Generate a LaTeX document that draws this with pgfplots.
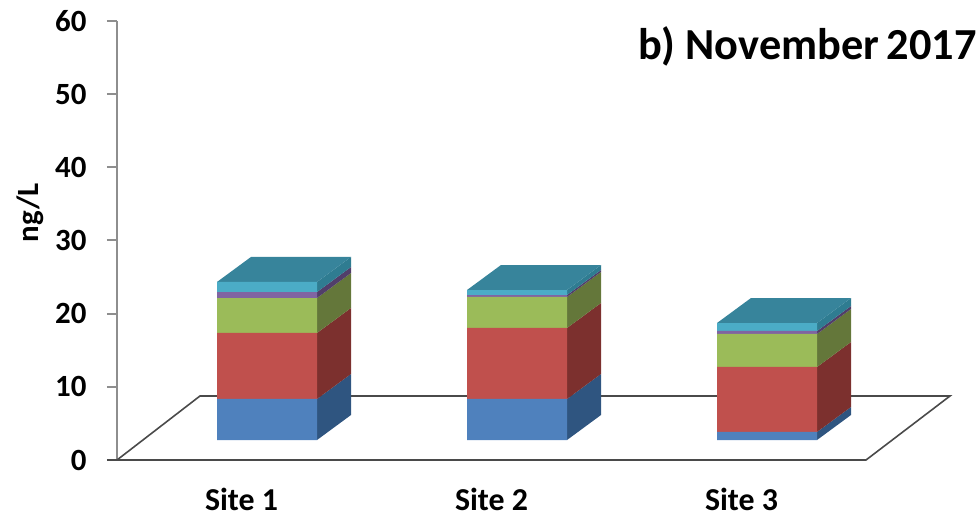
\documentclass[border=0pt]{standalone}
\usepackage{pgfplots}
\pgfplotsset{compat=1.18}
\usepackage{fontspec}
\setmainfont{Carlito}
\definecolor{cBlue}{HTML}{4F81BD}\definecolor{sBlue}{HTML}{2F5580}
\definecolor{cRed}{HTML}{C0504D}\definecolor{sRed}{HTML}{7C302E}
\definecolor{cGreen}{HTML}{9BBB59}\definecolor{sGreen}{HTML}{64773A}
\definecolor{cPurple}{HTML}{8064A2}\definecolor{sPurple}{HTML}{513E6A}
\definecolor{cCyan}{HTML}{4BACC6}\definecolor{sCyan}{HTML}{2F7C91}
\definecolor{cTop}{HTML}{37849B}
\definecolor{axisgrey}{HTML}{8E8E8E}
\definecolor{floorline}{HTML}{4A4A4A}
\pgfplotsset{common/.style={
  scale only axis, width=833bp, height=439bp,
  at={(117bp,53bp)}, anchor=south west,
  xmin=117, xmax=950, ymin=0, ymax=60, clip=false}}
\begin{document}
\begin{tikzpicture}[x=1bp,y=1bp]
\useasboundingbox (0,0) rectangle (980,513);
% floor, y axis, side and top faces
\begin{axis}[common,
  axis x line=none, axis y line=left, axis line style={draw=axisgrey,line width=2bp,-},
  ytick={0,10,20,30,40,50,60},
  y tick style={draw=axisgrey,line width=2bp},
  tick align=outside, major tick length=10bp,
  tick label style={font=\fontsize{31}{31}\selectfont\bfseries},
  /pgf/number format/assume math mode=true,
  yticklabel style={xshift=-17bp},
  ylabel={ng/L}, ylabel style={font=\fontsize{31}{31}\selectfont\bfseries,at={(axis description cs:-0.0948,0.563)},anchor=base},
]
\addplot[draw=floorline,line width=1.6bp,fill=none] coordinates {(107,0)(866,0)(950,8.75)(200,8.75)(117,0)};
% Site 1 sides
\addplot[draw=none,fill=sBlue] coordinates {(317,2.73)(351,6.15)(351,11.76)(317,8.34)} --cycle;
\addplot[draw=none,fill=sRed] coordinates {(317,8.34)(351,11.76)(351,20.78)(317,17.36)} --cycle;
\addplot[draw=none,fill=sGreen] coordinates {(317,17.36)(351,20.78)(351,25.56)(317,22.14)} --cycle;
\addplot[draw=none,fill=sPurple] coordinates {(317,22.14)(351,25.56)(351,26.38)(317,22.96)} --cycle;
\addplot[draw=none,fill=sCyan] coordinates {(317,22.96)(351,26.38)(351,27.75)(317,24.33)} --cycle;
\addplot[draw=none,fill=cTop] coordinates {(217,24.33)(317,24.33)(351,27.75)(251,27.75)} --cycle;
% Site 2 sides
\addplot[draw=none,fill=sBlue] coordinates {(567,2.73)(601,6.15)(601,11.76)(567,8.34)} --cycle;
\addplot[draw=none,fill=sRed] coordinates {(567,8.34)(601,11.76)(601,21.46)(567,18.04)} --cycle;
\addplot[draw=none,fill=sGreen] coordinates {(567,18.04)(601,21.46)(601,25.70)(567,22.28)} --cycle;
\addplot[draw=none,fill=sPurple] coordinates {(567,22.28)(601,25.70)(601,25.97)(567,22.55)} --cycle;
\addplot[draw=none,fill=sCyan] coordinates {(567,22.55)(601,25.97)(601,26.65)(567,23.23)} --cycle;
\addplot[draw=none,fill=cTop] coordinates {(467,23.23)(567,23.23)(601,26.65)(501,26.65)} --cycle;
% Site 3 sides
\addplot[draw=none,fill=sBlue] coordinates {(817,2.73)(851,6.15)(851,7.25)(817,3.83)} --cycle;
\addplot[draw=none,fill=sRed] coordinates {(817,3.83)(851,7.25)(851,16.13)(817,12.71)} --cycle;
\addplot[draw=none,fill=sGreen] coordinates {(817,12.71)(851,16.13)(851,20.64)(817,17.22)} --cycle;
\addplot[draw=none,fill=sPurple] coordinates {(817,17.22)(851,20.64)(851,21.05)(817,17.63)} --cycle;
\addplot[draw=none,fill=sCyan] coordinates {(817,17.63)(851,21.05)(851,22.14)(817,18.72)} --cycle;
\addplot[draw=none,fill=cTop] coordinates {(717,18.72)(817,18.72)(851,22.14)(751,22.14)} --cycle;
\node[anchor=base east,font=\fontsize{44.5}{44.5}\selectfont\bfseries,inner sep=0pt] at (axis cs:977,54.67) {b) November\hspace{-2.5bp} 2017};
\end{axis}
% front faces, stacked
\begin{axis}[common,
  ybar stacked, bar width=100,
  axis y line=none, axis x line=bottom, x axis line style={draw=none},
  xtick={241.5,491.5,741.5}, xticklabels={Site 1,Site 2,Site 3},
  x tick style={draw=none},
  xticklabel style={font=\fontsize{32}{32}\selectfont\bfseries,inner sep=0pt,outer sep=0pt,yshift=-26bp},
]
\addplot[draw=none,fill=none] coordinates {(267,2.73)(517,2.73)(767,2.73)};
\addplot[draw=none,fill=cBlue] coordinates {(267,5.61)(517,5.61)(767,1.10)};
\addplot[draw=none,fill=cRed] coordinates {(267,9.02)(517,9.70)(767,8.88)};
\addplot[draw=none,fill=cGreen] coordinates {(267,4.78)(517,4.24)(767,4.51)};
\addplot[draw=none,fill=cPurple] coordinates {(267,0.82)(517,0.27)(767,0.41)};
\addplot[draw=none,fill=cCyan] coordinates {(267,1.37)(517,0.68)(767,1.09)};
\end{axis}
\end{tikzpicture}
\end{document}
